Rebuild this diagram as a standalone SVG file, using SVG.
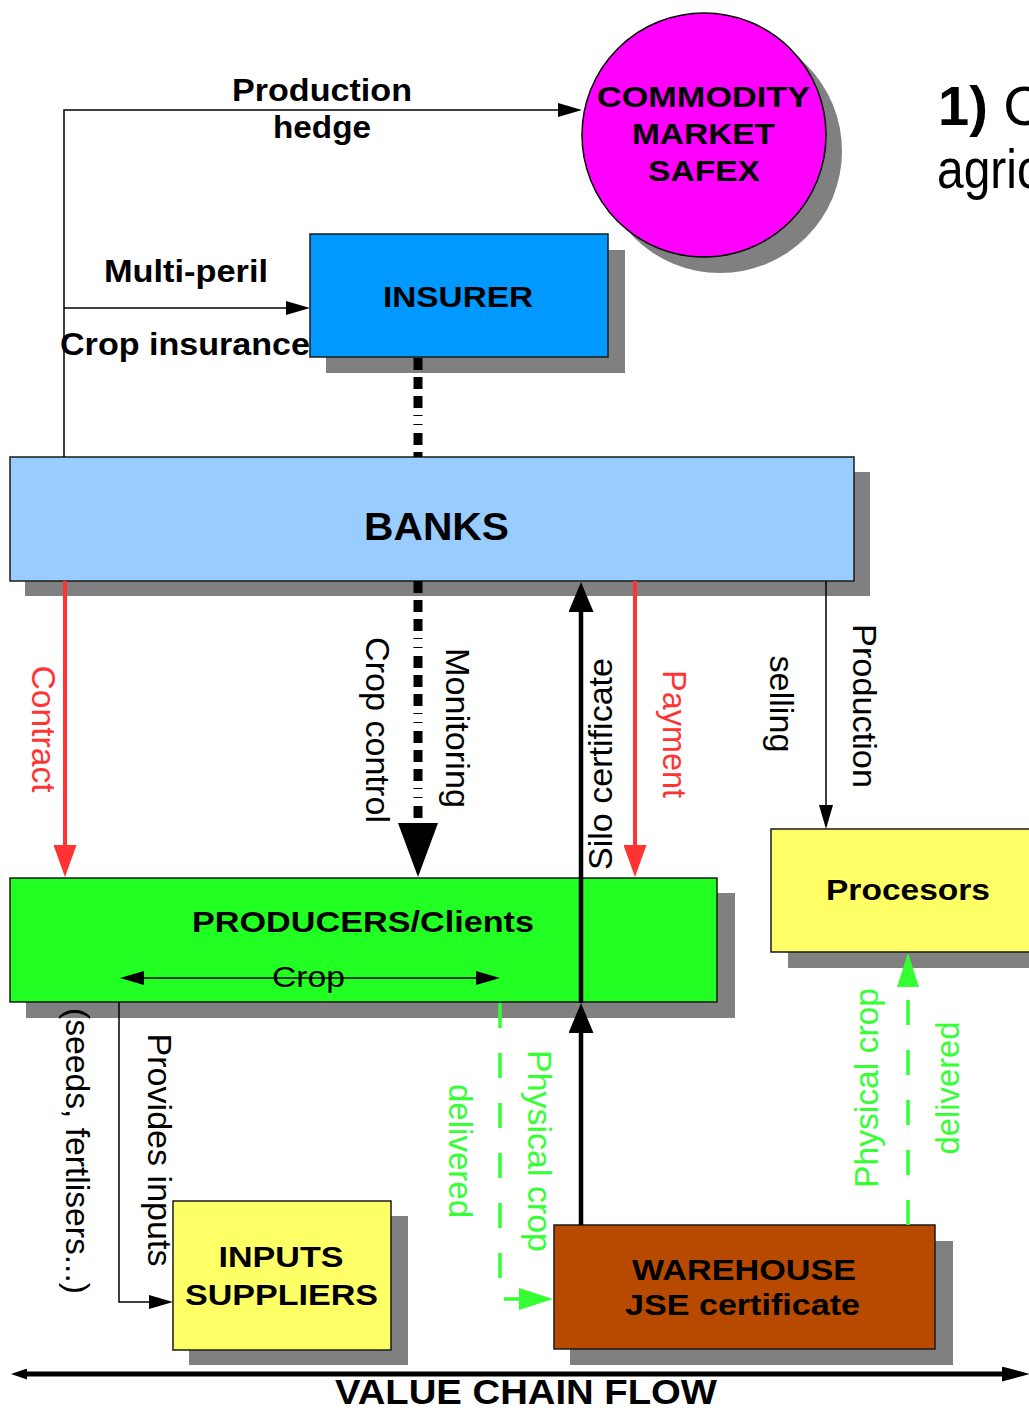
<svg xmlns="http://www.w3.org/2000/svg" width="1029" height="1408" viewBox="0 0 1029 1408">
  <style>
    text { font-family: "Liberation Sans", Arial, sans-serif; fill: #000; }
    .lbl { font-weight: bold; font-size: 32px; }
    .node { font-weight: bold; font-size: 30px; text-anchor: middle; }
    .rot { font-size: 33px; text-anchor: middle; }
    .red { fill: #ff3333; }
    .grn { fill: #33ff33; }
    .box { stroke: #1a1a1a; stroke-width: 1.5; }
    .shadow { fill: #808080; }
    .thin { fill: none; stroke: #000; stroke-width: 1.5; }
    .thick { fill: none; stroke: #000; stroke-width: 4.5; }
    .redline { fill: none; stroke: #ff3333; stroke-width: 4; }
    .grnline { fill: none; stroke: #33ff33; stroke-width: 3.5; stroke-dasharray: 25 25; }
    .ctrl { fill: none; stroke: #000; stroke-width: 9; stroke-dasharray: 12 7 12 7 12 7 1 8 1 8; }
    .title { font-family: "Liberation Sans", Arial, sans-serif; font-size: 56px; }
  </style>
  <defs>
    <marker id="aThin" markerUnits="userSpaceOnUse" markerWidth="24" markerHeight="14" refX="0" refY="7" orient="auto-start-reverse">
      <path d="M0,0 L24,7 L0,14 z" fill="#000"/>
    </marker>
    <marker id="aRed" markerUnits="userSpaceOnUse" markerWidth="32" markerHeight="23" refX="0" refY="11.5" orient="auto">
      <path d="M0,0 L32,11.5 L0,23 z" fill="#ff3333"/>
    </marker>
    <marker id="aBlack" markerUnits="userSpaceOnUse" markerWidth="30" markerHeight="25" refX="0" refY="12.5" orient="auto">
      <path d="M0,0 L30,12.5 L0,25 z" fill="#000"/>
    </marker>
    <marker id="aBig" markerUnits="userSpaceOnUse" markerWidth="54" markerHeight="40" refX="0" refY="20" orient="auto">
      <path d="M0,0 L54,20 L0,40 z" fill="#000"/>
    </marker>
    <marker id="aGrn" markerUnits="userSpaceOnUse" markerWidth="34" markerHeight="22" refX="0" refY="11" orient="auto">
      <path d="M0,0 L34,11 L0,22 z" fill="#33ff33"/>
    </marker>
    <marker id="aFlowL" markerUnits="userSpaceOnUse" markerWidth="16" markerHeight="11" refX="0" refY="5.5" orient="auto-start-reverse">
      <path d="M0,0 L16,5.5 L0,11 z" fill="#000"/>
    </marker>
    <marker id="aFlowR" markerUnits="userSpaceOnUse" markerWidth="28" markerHeight="15" refX="0" refY="7.5" orient="auto">
      <path d="M0,0 L28,7.5 L0,15 z" fill="#000"/>
    </marker>
  </defs>

  <rect width="1029" height="1408" fill="#fff"/>

  <!-- heading text at the right edge -->
  <text class="title" x="938" y="125"><tspan font-weight="bold">1)</tspan> C</text>
  <text class="title" x="937" y="188" textLength="104" lengthAdjust="spacingAndGlyphs">agric</text>

  <!-- nodes -->
  <g id="commodity-market">
    <circle class="shadow" cx="720" cy="151" r="122"/>
    <circle cx="704" cy="135" r="122" fill="#ff00ff" stroke="#000" stroke-width="1.5"/>
    <text class="node" x="703.5" y="107" textLength="213" lengthAdjust="spacingAndGlyphs">COMMODITY</text>
    <text class="node" x="703.5" y="144" textLength="143" lengthAdjust="spacingAndGlyphs">MARKET</text>
    <text class="node" x="704" y="181" textLength="112" lengthAdjust="spacingAndGlyphs">SAFEX</text>
  </g>

  <g id="insurer">
    <rect class="shadow" x="326" y="250" width="299" height="123"/>
    <rect class="box" x="310" y="234" width="298" height="123" fill="#0099ff"/>
    <text class="node" x="458" y="307" textLength="150" lengthAdjust="spacingAndGlyphs">INSURER</text>
  </g>

  <g id="banks">
    <rect class="shadow" x="25" y="472" width="845" height="124"/>
    <rect class="box" x="10" y="457" width="844" height="124" fill="#99ccff"/>
    <text class="node" x="436.5" y="540" textLength="145" lengthAdjust="spacingAndGlyphs" style="font-size:38px">BANKS</text>
  </g>

  <g id="producers">
    <rect class="shadow" x="26" y="893" width="709" height="125"/>
    <rect class="box" x="10" y="878" width="707" height="124" fill="#22ff22"/>
    <text class="node" x="363" y="932" textLength="342" lengthAdjust="spacingAndGlyphs">PRODUCERS/Clients</text>
  </g>

  <g id="processors">
    <rect class="shadow" x="788" y="845" width="260" height="123"/>
    <rect class="box" x="771" y="829" width="270" height="123" fill="#ffff66"/>
    <text class="node" x="908" y="900" textLength="164" lengthAdjust="spacingAndGlyphs">Procesors</text>
  </g>

  <g id="inputs-suppliers">
    <rect class="shadow" x="189" y="1216" width="219" height="149"/>
    <rect class="box" x="173" y="1201" width="218" height="149" fill="#ffff66"/>
    <text class="node" x="281" y="1267" textLength="125" lengthAdjust="spacingAndGlyphs">INPUTS</text>
    <text class="node" x="281.5" y="1305" textLength="193" lengthAdjust="spacingAndGlyphs">SUPPLIERS</text>
  </g>

  <g id="warehouse">
    <rect class="shadow" x="570" y="1241" width="383" height="124"/>
    <rect class="box" x="554" y="1225" width="381" height="124" fill="#b84a00"/>
    <text class="node" x="744" y="1280" textLength="224" lengthAdjust="spacingAndGlyphs">WAREHOUSE</text>
    <text class="node" x="742.5" y="1315" textLength="235" lengthAdjust="spacingAndGlyphs">JSE certificate</text>
  </g>

  <!-- connectors and their labels -->
  <g id="connectors">
    <!-- production hedge to the commodity market -->
    <path class="thin" d="M64,457 V110 H558" marker-end="url(#aThin)"/>
    <text class="lbl" x="322" y="101" text-anchor="middle" textLength="180" lengthAdjust="spacingAndGlyphs">Production</text>
    <text class="lbl" x="322" y="138" text-anchor="middle" textLength="98" lengthAdjust="spacingAndGlyphs">hedge</text>

    <!-- multi-peril crop insurance -->
    <path class="thin" d="M64,308 H286" marker-end="url(#aThin)"/>
    <text class="lbl" x="104" y="282" textLength="164" lengthAdjust="spacingAndGlyphs">Multi-peril</text>
    <text class="lbl" x="60" y="355" textLength="250" lengthAdjust="spacingAndGlyphs">Crop insurance</text>

    <!-- insurer to banks -->
    <path class="ctrl" d="M418,358 V457"/>

    <!-- monitoring / crop control -->
    <path class="ctrl" d="M418,581 V823" marker-end="url(#aBig)"/>
    <text class="rot" transform="translate(366,730) rotate(90)" textLength="186" lengthAdjust="spacingAndGlyphs">Crop control</text>
    <text class="rot" transform="translate(446,728) rotate(90)" textLength="160" lengthAdjust="spacingAndGlyphs">Monitoring</text>

    <!-- contract -->
    <path class="redline" d="M65,581 V845" marker-end="url(#aRed)"/>
    <text class="rot red" transform="translate(32,729) rotate(90)" textLength="127" lengthAdjust="spacingAndGlyphs">Contract</text>

    <!-- payment -->
    <path class="redline" d="M635,581 V845" marker-end="url(#aRed)"/>
    <text class="rot red" transform="translate(663,734) rotate(90)" textLength="128" lengthAdjust="spacingAndGlyphs">Payment</text>

    <!-- silo certificate -->
    <path class="thick" d="M581,1225 V1033" marker-end="url(#aBlack)"/>
    <path class="thick" d="M581,1003 V612" marker-end="url(#aBlack)"/>
    <text class="rot" transform="translate(612,764) rotate(-90)" textLength="212" lengthAdjust="spacingAndGlyphs">Silo certificate</text>

    <!-- production selling -->
    <path class="thin" d="M826,581 V805" marker-end="url(#aThin)"/>
    <text class="rot" transform="translate(770,704) rotate(90)" textLength="97" lengthAdjust="spacingAndGlyphs">selling</text>
    <text class="rot" transform="translate(853,706) rotate(90)" textLength="164" lengthAdjust="spacingAndGlyphs">Production</text>

    <!-- crop within the producers -->
    <path class="thin" d="M144,978 H476" marker-start="url(#aThin)" marker-end="url(#aThin)"/>
    <text x="308.5" y="987" font-size="29" text-anchor="middle" textLength="73" lengthAdjust="spacingAndGlyphs">Crop</text>

    <!-- provides inputs -->
    <path class="thin" d="M119,1002 V1302 H149" marker-end="url(#aThin)"/>
    <text class="rot" transform="translate(148,1150) rotate(90)" textLength="233" lengthAdjust="spacingAndGlyphs">Provides inputs</text>
    <text class="rot" transform="translate(66,1151) rotate(90)" textLength="286" lengthAdjust="spacingAndGlyphs">(seeds, fertlisers...)</text>

    <!-- physical crop delivered to the warehouse -->
    <path class="grnline" d="M500,1003 V1299 H519" marker-end="url(#aGrn)"/>
    <text class="rot grn" transform="translate(449,1151) rotate(90)" textLength="134" lengthAdjust="spacingAndGlyphs">delivered</text>
    <text class="rot grn" transform="translate(528,1151) rotate(90)" textLength="202" lengthAdjust="spacingAndGlyphs">Physical crop</text>

    <!-- physical crop delivered to the processors -->
    <path class="grnline" d="M908,1225 V987" marker-end="url(#aGrn)"/>
    <text class="rot grn" transform="translate(878,1088) rotate(-90)" textLength="200" lengthAdjust="spacingAndGlyphs">Physical crop</text>
    <text class="rot grn" transform="translate(959,1088) rotate(-90)" textLength="133" lengthAdjust="spacingAndGlyphs">delivered</text>

    <!-- value chain flow -->
    <path d="M27,1374 H1002" fill="none" stroke="#000" stroke-width="5" marker-start="url(#aFlowL)" marker-end="url(#aFlowR)"/>
    <text x="526" y="1404" font-size="35" font-weight="bold" text-anchor="middle" textLength="382" lengthAdjust="spacingAndGlyphs">VALUE CHAIN FLOW</text>
  </g>
</svg>
